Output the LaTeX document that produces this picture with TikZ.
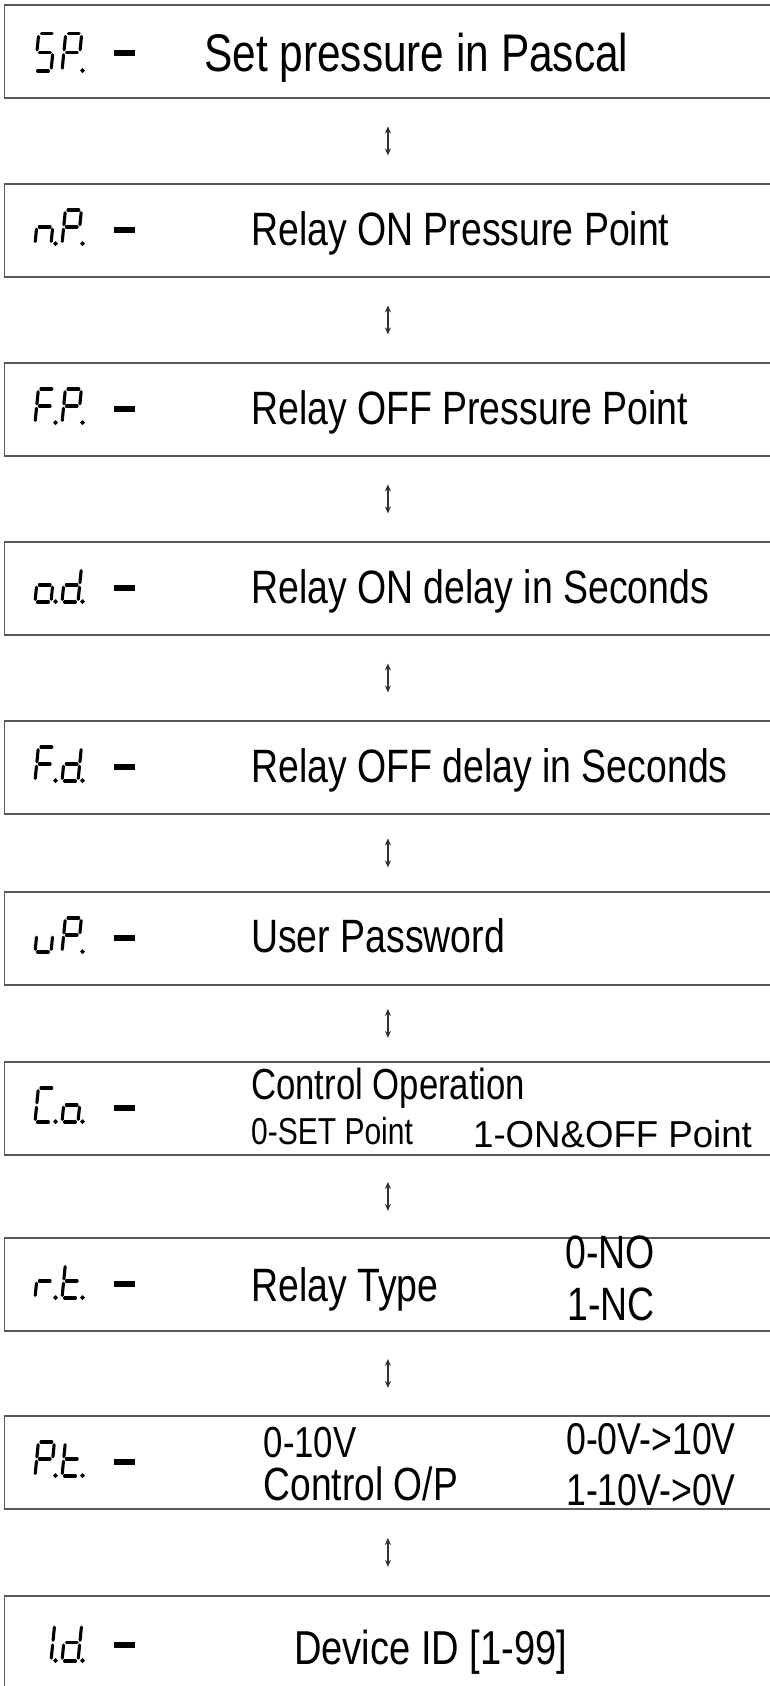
\documentclass[tikz,border=0pt]{standalone}
\usepackage{fontspec}
\setmainfont{Liberation Sans}[FakeStretch=0.8]
\usetikzlibrary{arrows.meta,calc}
\definecolor{boxgray}{RGB}{88,88,88}
\definecolor{arrgray}{RGB}{50,50,50}
% seven-segment pieces (local coords, y down, baseline at 0, height 34)
\def\sega{(2.6,-34)--(13.4,-34)}
\def\segb{(16,-31.4)--(16,-19.2)}
\def\segc{(16,-14.8)--(16,-2.6)}
\def\segd{(2.6,0)--(13.4,0)}
\def\sege{(0,-14.8)--(0,-2.6)}
\def\segf{(0,-31.4)--(0,-19.2)}
\def\segg{(2.6,-17)--(13.4,-17)}
\def\segp{(20.5,-0.4) circle[radius=0.3]}
\newcommand\sevseg[4]{% #1 x, #2 baseline y, #3 yscale, #4 segments
  \begin{scope}[shift={(#1,#2)}, xslant=0.1, yscale=#3]
    \foreach \s in {#4}{\edef\tmp{\noexpand\draw[seg] \csname seg\s\endcsname;}\tmp}
  \end{scope}}
\newcommand\glyphs[6]{% #1 baseline y, #2 yscale, #3 dash y, #4 first digit, #5 second digit, #6 dash name
  \sevseg{35}{#1}{#2}{#4}
  \sevseg{62}{#1}{#2}{#5}
  \node[dashbar] (#6) at (124,#3) {};}
\tikzset{
  x=1pt, y=-1pt,
  box/.style={draw=boxgray, line width=1.8pt, minimum width=767pt, minimum height=93pt, inner sep=0pt, anchor=north west},
  lbl/.style={anchor=base west, inner sep=0pt, text=black},
  seg/.style={line width=3.1pt, line cap=round, draw=black},
  dashbar/.style={fill=black, draw=none, minimum width=21pt, minimum height=6pt, inner sep=0pt},
  arr/.style={{Stealth[length=7pt,width=6pt]}-{Stealth[length=7pt,width=6pt]}, line width=1.3pt, draw=arrgray},
  fA/.style={font=\fontsize{53}{58}\selectfont},
  fB/.style={font=\fontsize{46.8}{52}\selectfont},
  fC/.style={font=\fontsize{43.4}{48}\selectfont},
  fD/.style={font=\fontsize{37.5}{42}\selectfont},
  fE/.style={font=\fontsize{44.6}{50}\selectfont},
  fF/.style={font=\fontsize{47.6}{53}\selectfont},
}
\begin{document}
\begin{tikzpicture}
\fill[white] (0,0) rectangle (769,1686);
\useasboundingbox (0,0) rectangle (769,1686);
% boxes
\node[box] (b1) at (3.5,4) {};
\node[box] (b2) at (3.5,183) {};
\node[box] (b3) at (3.5,362) {};
\node[box] (b4) at (3.5,541) {};
\node[box] (b5) at (3.5,720) {};
\node[box] (b6) at (3.5,891) {};
\node[box] (b7) at (3.5,1061) {};
\node[box] (b8) at (3.5,1237) {};
\node[box] (b9) at (3.5,1415) {};
\node[box] (b10) at (3.5,1595) {};
% connectors
\foreach \i/\j in {1/2,2/3,3/4,4/5,5/6,6/7,7/8,8/9,9/10}{
  \coordinate (m\i) at ($(b\i.south)!0.5!(b\j.north)$);
  \coordinate (u\i) at ($(m\i)+(0,-14.5)$);
  \coordinate (l\i) at ($(m\i)+(0,14.5)$);
  \draw[arr] (u\i) -- (l\i);
}
% seven-segment codes
\glyphs{71}{1.1}{53}{a,f,g,c,d}{a,b,f,g,e,p}{d1}
\glyphs{244}{1}{230}{e,g,c,p}{a,b,f,g,e,p}{d2}
\glyphs{423}{1}{409}{a,f,g,e,p}{a,b,f,g,e,p}{d3}
\glyphs{602}{1}{588}{g,c,d,e,p}{b,c,d,e,g,p}{d4}
\glyphs{781}{1}{767}{a,f,g,e,p}{b,c,d,e,g,p}{d5}
\glyphs{952}{1}{938}{c,d,e}{a,b,f,g,e,p}{d6}
\glyphs{1122}{1}{1108}{a,f,e,d,p}{g,c,d,e,p}{d7}
\glyphs{1298}{1}{1284}{e,g,p}{f,e,g,d,p}{d8}
\glyphs{1476}{1}{1462}{a,b,f,g,e,p}{f,e,g,d,p}{d9}
\glyphs{1661}{1.08}{1645}{b,c,p}{b,c,d,e,g,p}{d10}
% texts
\node[lbl,fA] (t1) at (204,71) {Set pressure in Pascal};
\node[lbl,fB] (t2) at (251,245) {Relay ON Pressure Point};
\node[lbl,fB] (t3) at (251,424) {Relay OFF Pressure Point};
\node[lbl,fB] (t4) at (251,603) {Relay ON delay in Seconds};
\node[lbl,fB] (t5) at (251,782) {Relay OFF delay in Seconds};
\node[lbl,fB] (t6) at (251,952) {User Password};
\node[lbl,fC] (t7a) at (251,1099) {Control Operation};
\node[lbl,fD] (t7b) at (251,1144) {0-SET Point};
\node[lbl,fD] (t7c) at (473,1147) {\scalebox{1.22}[1]{1-ON\&OFF Point}};
\node[lbl,fB] (t8a) at (251,1301) {Relay Type};
\node[lbl,fB] (t8b) at (565,1268) {0-NO};
\node[lbl,fB] (t8c) at (567,1320) {1-NC};
\node[lbl,font=\fontsize{43.5}{48}\selectfont] (t9a) at (263.5,1457) {0-10V};
\node[lbl,font=\fontsize{46.5}{52}\selectfont] (t9b) at (263.5,1500) {Control O/P};
\node[lbl,fE] (t9c) at (566,1454) {0-0V->10V};
\node[lbl,fE] (t9d) at (566,1505) {1-10V->0V};
\node[lbl,fF] (t10) at (294,1664) {Device ID [1-99]};
\end{tikzpicture}
\end{document}
